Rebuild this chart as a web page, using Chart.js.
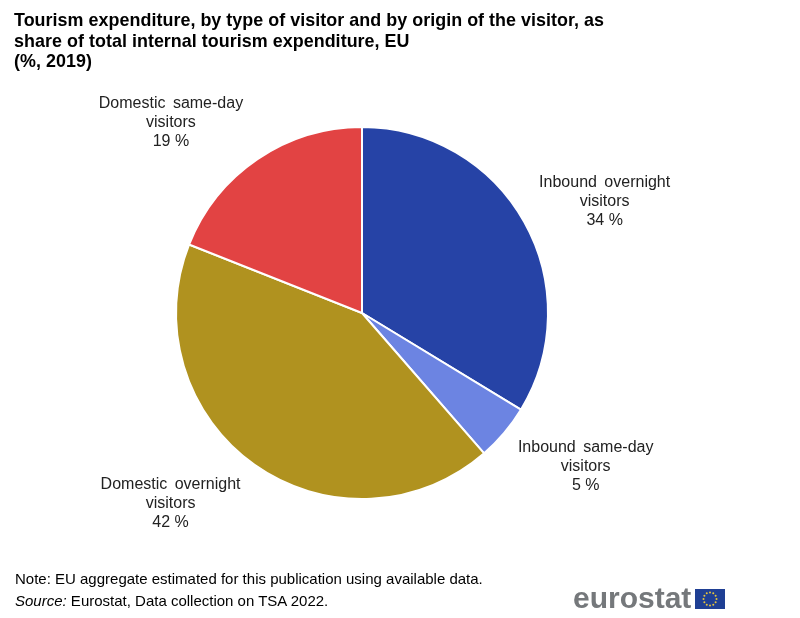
<!DOCTYPE html>
<html>
<head>
<meta charset="utf-8">
<script src="https://cdn.jsdelivr.net/npm/chart.js@4"></script>
<style>
  body { margin: 0; background: #fff; font-family: "Liberation Sans", Arial, sans-serif; }
  #wrap { position: relative; width: 800px; height: 618px; overflow: hidden; }
  #wrap canvas { position: absolute; left: 0; top: 0; }
  #title { position: absolute; left: 14px; top: 10px; font-size: 17.9px; line-height: 20.7px; font-weight: bold; color: #000; white-space: nowrap; letter-spacing: 0.04px; }
  #note { position: absolute; left: 15px; top: 568px; font-size: 15px; line-height: 22px; color: #000; white-space: nowrap; }
  #logo { position: absolute; left: 573px; top: 581px; font-size: 30px; line-height: 34px; font-weight: bold; color: #75787b; }
  #flag { position: absolute; left: 695px; top: 589px; }
</style>
</head>
<body>
<div id="wrap">
  <canvas id="c" width="800" height="618"></canvas>
  <div id="title">Tourism expenditure, by type of visitor and by origin of the visitor, as<br>share of total internal tourism expenditure, EU<br>(%, 2019)</div>
  <div id="note">Note: EU aggregate estimated for this publication using available data.<br><i>Source:</i> Eurostat, Data collection on TSA 2022.</div>
  <div id="logo">eurostat</div>
  <svg id="flag" width="30" height="20"></svg>
</div>
<script>
const categories = [
  ["Inbound overnight", "visitors"],
  ["Inbound same-day", "visitors"],
  ["Domestic overnight", "visitors"],
  ["Domestic same-day", "visitors"]
]
const shares = [33.7, 4.9, 42.4, 19.0]
const colours = ["#2643a6", "#6c84e2", "#b0921f", "#e24343"]

// label centre relative to the slice's outer edge midpoint
const labelShift = [[80.5, -20], [81.5, 34], [-84, 39], [-86.5, -37]]

const sliceLabels = {
  id: "sliceLabels",
  afterDatasetsDraw(chart) {
    const ctx = chart.ctx
    const arcs = chart.getDatasetMeta(0).data
    ctx.save()
    ctx.font = "16px 'Liberation Sans', Arial, sans-serif"
    ctx.fillStyle = "#222"
    ctx.textAlign = "center"
    ctx.textBaseline = "middle"
    arcs.forEach((arc, i) => {
      const mid = (arc.startAngle + arc.endAngle) / 2
      const x = arc.x + Math.cos(mid) * arc.outerRadius + labelShift[i][0]
      const y = arc.y + Math.sin(mid) * arc.outerRadius + labelShift[i][1]
      const lines = [...categories[i], Math.round(shares[i]) + " %"]
      lines.forEach((line, n) => {
        ctx.wordSpacing = n == 0 ? "3px" : "0px"
        ctx.fillText(line, x, y + (n - 1) * 19)
      })
    })
    ctx.restore()
  }
}

new Chart(document.getElementById("c").getContext("2d"), {
  type: "pie",
  data: {
    labels: categories.map(c => c.join(" ")),
    datasets: [{
      data: shares,
      backgroundColor: colours,
      borderColor: "#fff",
      borderWidth: 2
    }]
  },
  options: {
    responsive: false,
    animation: false,
    layout: { padding: { left: 175, right: 251, top: 126, bottom: 118 } },
    plugins: { legend: { display: false }, tooltip: { enabled: false } }
  },
  plugins: [sliceLabels]
})

// EU flag for the logo
const flag = document.getElementById("flag")
let stars = '<rect width="30" height="20" fill="#1f3f94"/>'
for (let i = 0; i < 12; i++) {
  const a = i * Math.PI / 6
  stars += `<circle cx="${15 + Math.cos(a) * 6.5}" cy="${10 + Math.sin(a) * 6.5}" r="1" fill="#e8c53a"/>`
}
flag.innerHTML = stars
</script>
</body>
</html>
